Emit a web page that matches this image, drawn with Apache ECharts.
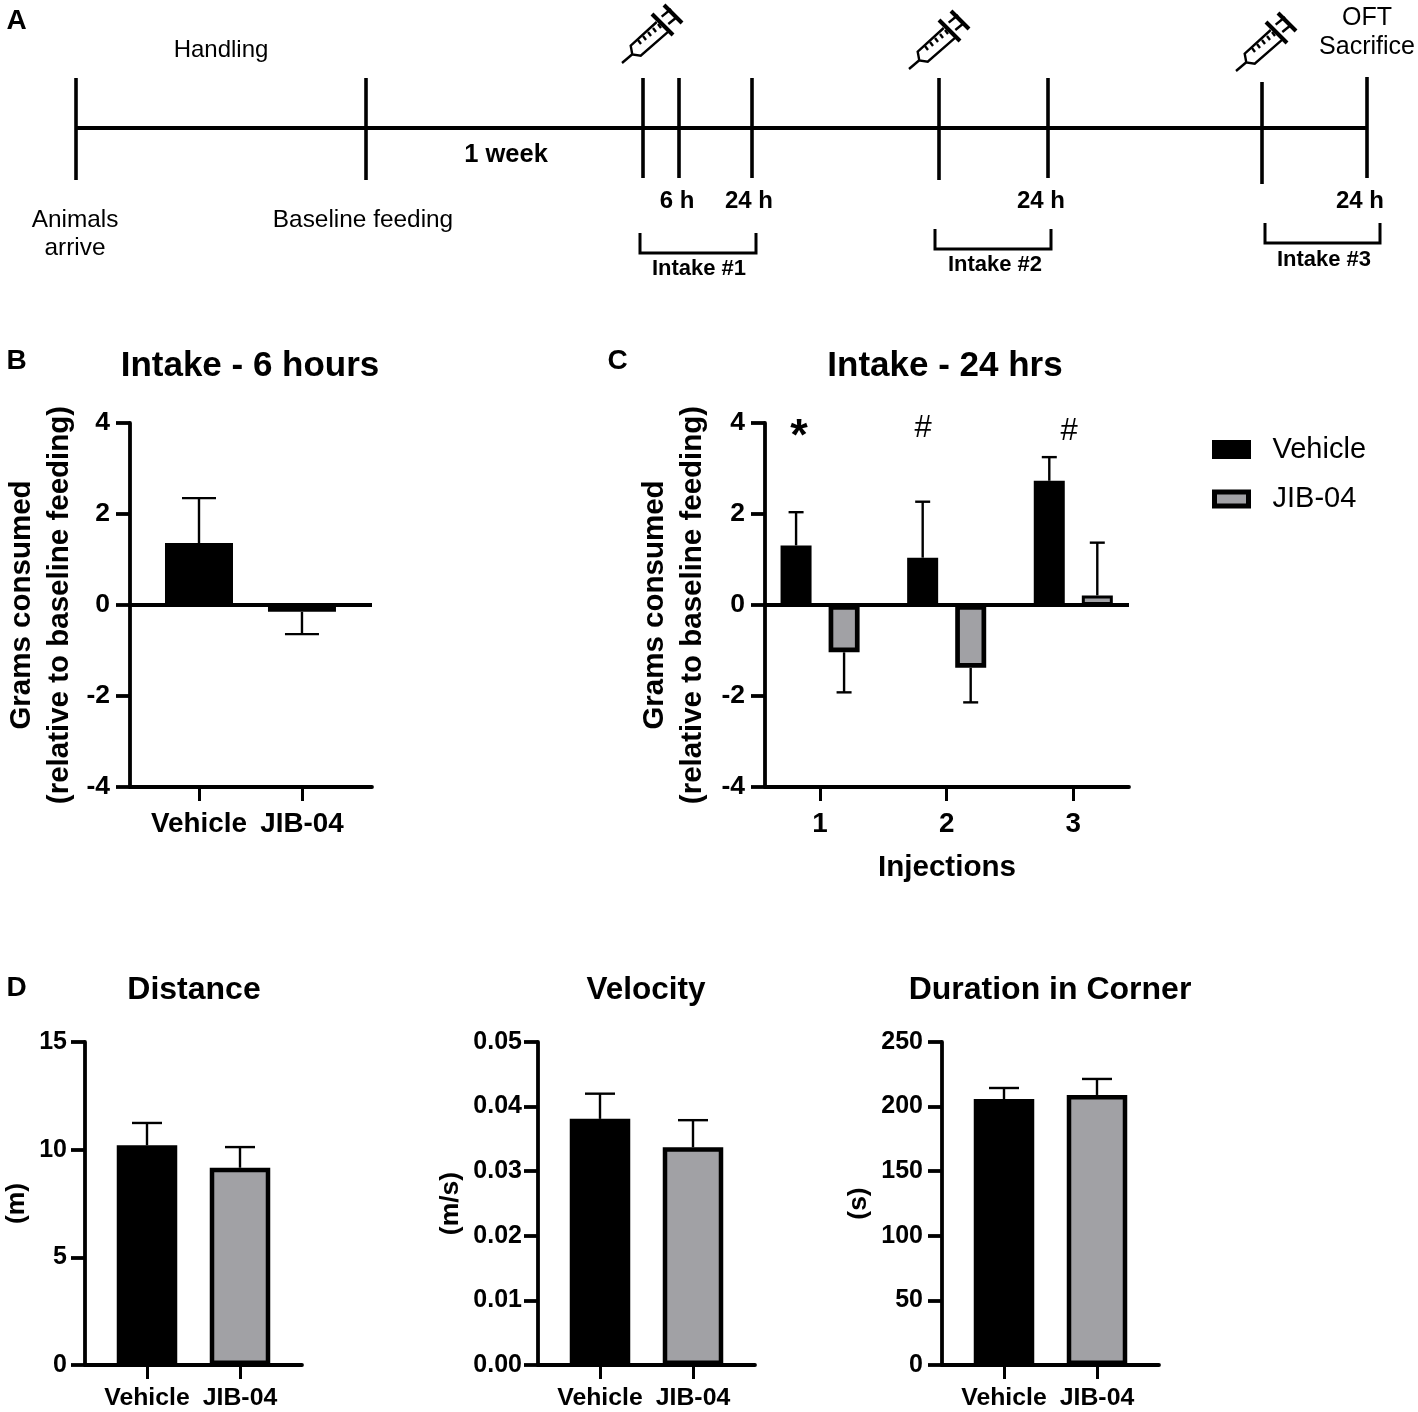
<!DOCTYPE html>
<html lang="en" style="height: 100%">
<head>
  <meta charset="utf-8">
</head>
<body style="height: 100%; margin: 0; background: #fff">
<div id="container" style="height: 100%"></div>

<script type="text/javascript" src="https://fastly.jsdelivr.net/npm/echarts@6/dist/echarts.min.js"></script>
<script type="text/javascript">
  // data
  var groups = ['Vehicle', 'JIB-04'];
  var injections = [1, 2, 3];

  var sixHourValues = [1.36, -0.15];
  var sixHourErrors = [0.99, 0.49];

  var dayVehicle = [1.31, 1.04, 2.73];
  var dayVehicleErrors = [0.73, 1.23, 0.52];
  var dayJib = [-1.04, -1.38, 0.21];
  var dayJibErrors = [0.88, 0.76, 1.16];

  var distanceValues = [10.2, 9.16];
  var distanceErrors = [1.04, 0.96];
  var velocityValues = [0.0381, 0.0337];
  var velocityErrors = [0.0039, 0.0042];
  var cornerValues = [205.9, 209];
  var cornerErrors = [8.5, 12.4];

  // timeline in panel A: [position, top, bottom]
  var timelineTicks = [
    [76, 78, 180], [366, 78, 180], [643, 78, 178], [679, 78, 178], [752, 78, 178],
    [939, 78, 180], [1048, 78, 178], [1262, 82, 184], [1367, 77, 178]
  ];
  var timelineSpan = [76, 1367];
  // [from, to, top, bottom]
  var intakeBrackets = [[640, 756, 233, 253], [935, 1051, 229, 249], [1265, 1380, 223, 243]];

  var FONT = '"Liberation Sans", Arial, sans-serif';
  var GRAY = '#a1a1a5';

  var dom = document.getElementById('container');
  var myChart = echarts.init(dom, null, { renderer: 'canvas' });

  var grids = [], xAxes = [], yAxes = [], series = [];

  function errorSeries(gi, points, offset, capWidth) {
    // points: [x, value, error]
    return {
      type: 'custom',
      xAxisIndex: gi,
      yAxisIndex: gi,
      silent: true,
      z: 1,
      data: points,
      renderItem: function (params, api) {
        var v = api.value(1);
        var end = v + (v < 0 ? -api.value(2) : api.value(2));
        var a = api.coord([api.value(0), v]);
        var b = api.coord([api.value(0), end]);
        var x = a[0] + offset;
        var style = { stroke: '#000', lineWidth: 2.4, fill: null };
        return {
          type: 'group',
          children: [
            { type: 'line', shape: { x1: x, y1: a[1], x2: x, y2: b[1] }, style: style },
            { type: 'line', shape: { x1: x - capWidth / 2, y1: b[1], x2: x + capWidth / 2, y2: b[1] }, style: style }
          ]
        };
      }
    };
  }

  function barSeries(gi, name, color, points, width, borderWidth) {
    return {
      type: 'bar',
      name: name,
      xAxisIndex: gi,
      yAxisIndex: gi,
      barWidth: width,
      barGap: '55%',
      z: 2,
      silent: true,
      itemStyle: { color: color, borderColor: '#000', borderWidth: borderWidth },
      data: points
    };
  }

  function zeroLine() {
    return {
      silent: true,
      symbol: 'none',
      label: { show: false },
      lineStyle: { color: '#000', width: 3.8, type: 'solid' },
      data: [{ yAxis: 0 }]
    };
  }

  function addAxes(p) {
    grids.push({ left: p.left, top: p.top, width: p.width, height: p.height, outerBoundsMode: 'none' });
    xAxes.push({
      type: 'value',
      gridIndex: p.index,
      min: p.xMin,
      max: p.xMax,
      name: p.xName || '',
      nameLocation: 'middle',
      nameGap: p.xNameGap,
      nameTextStyle: { fontFamily: FONT, fontWeight: 'bold', fontSize: 29.6, color: '#000' },
      splitLine: { show: false },
      axisLine: { onZero: false, lineStyle: { color: '#000', width: 3.8 } },
      axisTick: { length: 14, customValues: p.xTicks, lineStyle: { color: '#000', width: 3 } },
      axisLabel: {
        customValues: p.xTicks,
        margin: p.xMargin,
        fontFamily: FONT,
        fontWeight: 'bold',
        fontSize: p.xFontSize,
        color: '#000',
        formatter: p.xFormat
      }
    });
    yAxes.push({
      type: 'value',
      gridIndex: p.index,
      min: p.yMin,
      max: p.yMax,
      interval: p.yStep,
      name: p.yName,
      nameLocation: 'middle',
      nameGap: p.yNameGap,
      nameRotate: 90,
      nameTextStyle: {
        fontFamily: FONT, fontWeight: 'bold', fontSize: p.yNameSize, lineHeight: 38, color: '#000'
      },
      splitLine: { show: false },
      axisLine: { show: true, onZero: false, lineStyle: { color: '#000', width: 3.8 } },
      axisTick: { show: true, length: 14, lineStyle: { color: '#000', width: 3.8 } },
      axisLabel: {
        margin: p.yMargin,
        padding: [5, 0, 0, 0],
        fontFamily: FONT,
        fontWeight: 'bold',
        fontSize: p.yFontSize,
        color: '#000',
        formatter: p.yFormat
      }
    });
  }

  function nameOf(v) {
    return groups[v];
  }

  var GRAMS = 'Grams consumed\n(relative to baseline feeding)';

  // panel B
  addAxes({
    index: 0, left: 130, top: 423, width: 242, height: 364,
    xMin: -0.67, xMax: 1.68, xTicks: [0, 1], xFormat: nameOf, xMargin: 23, xFontSize: 27.8,
    yMin: -4, yMax: 4, yStep: 2, yName: GRAMS, yNameGap: 51, yNameSize: 29.5, yFontSize: 26.5, yMargin: 20
  });
  series.push(errorSeries(0, [
    [0, sixHourValues[0], sixHourErrors[0]],
    [1, sixHourValues[1], sixHourErrors[1]]
  ], 0, 34));
  var b = barSeries(0, groups[0], '#000', [[0, sixHourValues[0]]], 68, 4.7);
  b.barGap = '-100%';
  b.markLine = zeroLine();
  series.push(b);
  var b2 = barSeries(0, groups[1], GRAY, [[1, sixHourValues[1]]], 68, 4.7);
  b2.barGap = '-100%';
  series.push(b2);

  // panel C
  addAxes({
    index: 1, left: 765, top: 423, width: 364, height: 364,
    xMin: 0.565, xMax: 3.44, xTicks: injections, xName: 'Injections', xNameGap: 66, xMargin: 23, xFontSize: 27.8,
    yMin: -4, yMax: 4, yStep: 2, yName: GRAMS, yNameGap: 53, yNameSize: 29.5, yFontSize: 26.5, yMargin: 20
  });
  series.push(errorSeries(1, injections.map(function (d, i) {
    return [d, dayVehicle[i], dayVehicleErrors[i]];
  }), -24, 15));
  series.push(errorSeries(1, injections.map(function (d, i) {
    return [d, dayJib[i], dayJibErrors[i]];
  }), 24, 15));
  var c1 = barSeries(1, groups[0], '#000', injections.map(function (d, i) {
    return [d, dayVehicle[i]];
  }), 31, 4.7);
  c1.markLine = zeroLine();
  series.push(c1);
  series.push(barSeries(1, groups[1], GRAY, injections.map(function (d, i) {
    // the short third bar needs a thinner border or its fill disappears
    return dayJib[i] > 0 && dayJib[i] < 0.5
      ? { value: [d, dayJib[i]], itemStyle: { borderWidth: 3 } }
      : [d, dayJib[i]];
  }), 31, 4.7));

  // panel D
  var openField = [
    { left: 85, max: 15, step: 5, name: '(m)', gap: 47, margin: 18, vals: distanceValues, errs: distanceErrors },
    { left: 538, max: 0.05, step: 0.01, name: '(m/s)', gap: 62, margin: 16, vals: velocityValues, errs: velocityErrors,
      fmt: function (v) { return v.toFixed(2); } },
    { left: 942, max: 250, step: 50, name: '(s)', gap: 60, margin: 19, vals: cornerValues, errs: cornerErrors }
  ];
  openField.forEach(function (o, k) {
    var gi = k + 2;
    addAxes({
      index: gi, left: o.left, top: 1042, width: 217, height: 323,
      xMin: -2 / 3, xMax: 5 / 3, xTicks: [0, 1], xFormat: nameOf, xMargin: 21, xFontSize: 24.8,
      yMin: 0, yMax: o.max, yStep: o.step, yName: o.name, yNameGap: o.gap, yNameSize: 26.5, yFontSize: 25, yMargin: o.margin,
      yFormat: o.fmt
    });
    series.push(errorSeries(gi, [[0, o.vals[0], o.errs[0]], [1, o.vals[1], o.errs[1]]], 0, 30));
    var s1 = barSeries(gi, groups[0], '#000', [[0, o.vals[0]]], 60.5, 4.5);
    var s2 = barSeries(gi, groups[1], GRAY, [[1, o.vals[1]]], 60.5, 4.5);
    s1.barGap = s2.barGap = '-100%';
    series.push(s1, s2);
  });

  // panel A: timeline on its own hidden axes
  grids.push({ left: 0, top: 0, width: 1418, height: 300, outerBoundsMode: 'none' });
  xAxes.push({ type: 'value', gridIndex: 5, min: 0, max: 1418, show: false });
  yAxes.push({ type: 'value', gridIndex: 5, min: 0, max: 300, inverse: true, show: false });
  series.push({
    type: 'custom',
    xAxisIndex: 5,
    yAxisIndex: 5,
    silent: true,
    data: timelineTicks,
    renderItem: function (params, api) {
      var a = api.coord([api.value(0), api.value(1)]);
      var z = api.coord([api.value(0), api.value(2)]);
      return {
        type: 'line',
        shape: { x1: a[0], y1: a[1], x2: z[0], y2: z[1] },
        style: { stroke: '#000', lineWidth: 3.6 }
      };
    }
  });
  series.push({
    type: 'line',
    xAxisIndex: 5,
    yAxisIndex: 5,
    silent: true,
    symbol: 'none',
    lineStyle: { color: '#000', width: 4 },
    data: [[timelineSpan[0], 128], [timelineSpan[1], 128]]
  });
  series.push({
    type: 'custom',
    xAxisIndex: 5,
    yAxisIndex: 5,
    silent: true,
    data: intakeBrackets,
    renderItem: function (params, api) {
      var p1 = api.coord([api.value(0), api.value(2)]);
      var p2 = api.coord([api.value(0), api.value(3)]);
      var p3 = api.coord([api.value(1), api.value(3)]);
      var p4 = api.coord([api.value(1), api.value(2)]);
      return {
        type: 'polyline',
        shape: { points: [p1, p2, p3, p4] },
        style: { stroke: '#000', lineWidth: 3, fill: null }
      };
    }
  });

  function txt(x, y, text, size, weight, lineHeight) {
    return {
      type: 'text',
      x: x,
      y: y,
      silent: true,
      style: {
        text: text,
        fontFamily: FONT,
        fontSize: size,
        fontWeight: weight || 'normal',
        lineHeight: lineHeight,
        textAlign: 'center',
        textVerticalAlign: 'middle',
        fill: '#000'
      }
    };
  }

  function syringe(dx, dy) {
    function thin(points) {
      return { type: 'polyline', shape: { points: points }, style: { stroke: '#000', lineWidth: 2.4, fill: null } };
    }
    function thick(points) {
      return { type: 'polyline', shape: { points: points }, style: { stroke: '#000', lineWidth: 4, fill: null } };
    }
    return {
      type: 'group',
      x: dx,
      y: dy,
      silent: true,
      children: [
        thin([[622, 63], [632, 54.5]]),
        thin([[656.7, 22], [630.7, 45.7], [632.3, 54.5], [640.7, 55.7], [668.3, 31.7]]),
        thin([[661.7, 16.7], [671, 9]]),
        thin([[668.3, 24], [677.3, 16.7]]),
        thin([[638, 40], [641, 44]]),
        thin([[643, 36], [646, 40]]),
        thin([[648, 32], [651, 36]]),
        thin([[653, 28], [656, 32]]),
        thin([[658, 24], [661, 28]]),
        thick([[664, 5], [682, 23]]),
        thick([[652, 14], [673, 35]])
      ]
    };
  }

  var graphics = [
    txt(16.5, 21, 'A', 28, 'bold'),
    txt(16.5, 361, 'B', 28, 'bold'),
    txt(617.5, 361, 'C', 28, 'bold'),
    txt(16.5, 988, 'D', 28, 'bold'),
    txt(221, 50, 'Handling', 24),
    txt(506, 155, '1 week', 25.5, 'bold'),
    txt(677, 201, '6 h', 24, 'bold'),
    txt(749, 201, '24 h', 24, 'bold'),
    txt(1041, 201, '24 h', 24, 'bold'),
    txt(1360, 201, '24 h', 24, 'bold'),
    txt(75, 234, 'Animals\narrive', 24.4, 'normal', 28),
    txt(363, 220, 'Baseline feeding', 24.4),
    txt(1367, 33, 'OFT\nSacrifice', 25, 'normal', 29),
    txt(699, 269, 'Intake #1', 22, 'bold'),
    txt(995, 265, 'Intake #2', 22, 'bold'),
    txt(1324, 260, 'Intake #3', 22, 'bold'),
    txt(250, 366, 'Intake - 6 hours', 35, 'bold'),
    txt(945, 366, 'Intake - 24 hrs', 35, 'bold'),
    txt(194, 990, 'Distance', 32, 'bold'),
    txt(646, 990, 'Velocity', 31.5, 'bold'),
    txt(1050, 990, 'Duration in Corner', 32, 'bold'),
    txt(799, 438, '*', 45, 'bold'),
    txt(923, 428, '#', 31),
    txt(1069, 431, '#', 31),
    syringe(0, 0),
    syringe(287, 6),
    syringe(614, 8)
  ];

  var option = {
    animation: false,
    backgroundColor: '#fff',
    textStyle: { fontFamily: FONT },
    legend: {
      left: 1207,
      top: 430,
      orient: 'vertical',
      icon: 'rect',
      itemWidth: 34,
      itemHeight: 14,
      itemGap: 20.5,
      selectedMode: false,
      data: [
        { name: groups[0], itemStyle: { color: '#000', borderColor: '#000', borderWidth: 5 } },
        { name: groups[1], itemStyle: { color: GRAY, borderColor: '#000', borderWidth: 5 } }
      ],
      textStyle: { fontFamily: FONT, fontSize: 29, color: '#000', padding: [0, 0, 0, 19] }
    },
    grid: grids,
    xAxis: xAxes,
    yAxis: yAxes,
    series: series,
    graphic: graphics
  };

  if (option && typeof option === 'object') {
    myChart.setOption(option);
  }

  window.addEventListener('resize', myChart.resize);
</script>
</body>
</html>
